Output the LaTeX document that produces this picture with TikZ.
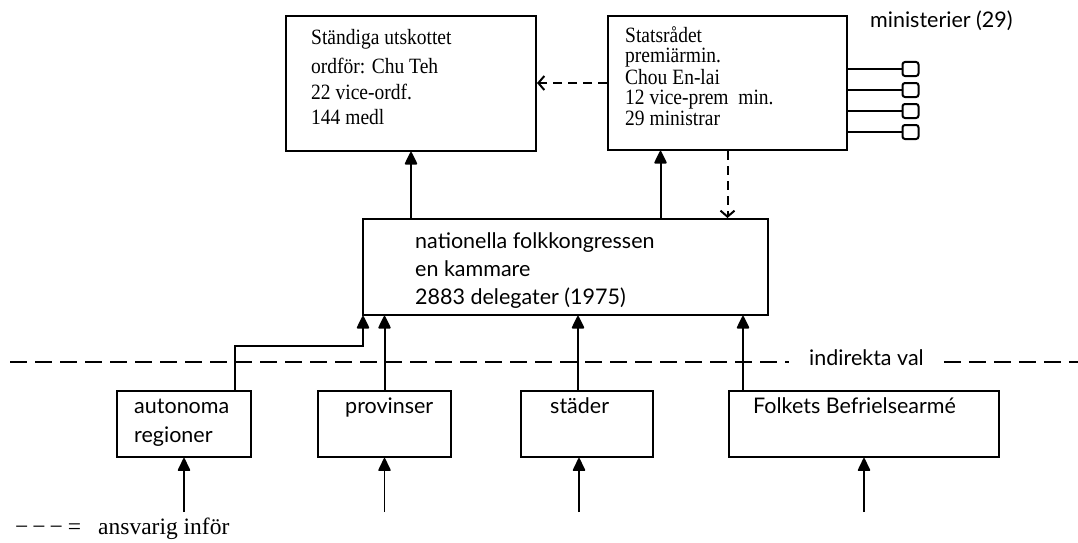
\documentclass[tikz,border=0pt]{standalone}
\usepackage{fontspec}
\usepackage{graphicx}
\setmainfont{Liberation Serif}
\newfontfamily\optima{Lato}
\usetikzlibrary{arrows.meta}
\newcommand{\tallx}[1]{\scalebox{1}[1.12]{#1}}
\begin{document}
\begin{tikzpicture}[x=1pt,y=-1pt,
  box/.style={draw, line width=2pt, inner sep=0pt},
  conn/.style={line width=2pt},
  uparr/.style={conn, -{Triangle[length=14pt,width=13pt,round]}},
  resp/.style={line width=2pt, dash pattern=on 9pt off 6pt, -{Straight Barb[length=6pt,width=14pt,line width=2pt]}},
  divider/.style={line width=1.6pt, dash pattern=on 17pt off 8pt},
  mbox/.style={draw, line width=2pt, rounded corners=2.5pt, minimum width=16pt, minimum height=14pt, inner sep=0pt},
  ser/.style={font=\fontsize{19.5}{23}\selectfont, anchor=base west, inner sep=0pt},
  san/.style={font=\optima\fontsize{21.5}{25}\selectfont, anchor=base west, inner sep=0pt},
]
\useasboundingbox (0,0) rectangle (1078,543);

% boxes
\node[box, minimum width=250pt, minimum height=135pt] (su) at (411,83.5) {};
\node[box, minimum width=239pt, minimum height=134pt] (sr) at (727.5,83) {};
\node[box, minimum width=405pt, minimum height=96pt] (nat) at (565.5,267) {};
\node[box, minimum width=134pt, minimum height=66pt] (auto) at (184,424) {};
\node[box, minimum width=133pt, minimum height=66pt] (prov) at (384.5,424) {};
\node[box, minimum width=132pt, minimum height=66pt] (sta) at (587,424) {};
\node[box, minimum width=270pt, minimum height=66pt] (folk) at (864,424) {};

% texts
\node[ser] (t1) at (311,45) {\tallx{Ständiga utskottet}};
\node[ser] (t2) at (311,74) {\tallx{ordför: Chu Teh}};
\node[ser] (t3) at (311,99) {\tallx{22 vice-ordf.}};
\node[ser] (t4) at (311,124) {\tallx{144 medl}};

\node[ser] (s1) at (625,42) {\tallx{Statsrådet}};
\node[ser] (s2) at (625,63) {\tallx{premiärmin.}};
\node[ser] (s3) at (625,84) {\tallx{Chou En-lai}};
\node[ser] (s4) at (625,104) {\tallx{12 vice-prem\ \ min.}};
\node[ser] (s5) at (625,125) {\tallx{29 ministrar}};

\node[san] (min) at (870,28) {ministerier (29)};

\node[san] (n1) at (415,248) {nationella folkkongressen};
\node[san] (n2) at (415,276) {en kammare};
\node[san] (n3) at (415,304) {2883 delegater (1975)};

\node[san] (a1) at (134,413) {autonoma};
\node[san] (a2) at (134,442) {regioner};
\node[san] (p1) at (345,413) {provinser};
\node[san] (st1) at (550,413) {städer};
\node[san] (f1) at (753,413) {Folkets Befrielsearmé};

\node[ser, font=\fontsize{23.5}{26}\selectfont] (leg) at (15,534) {−\hspace{4pt}−\hspace{4pt}−\hspace{5pt}=\hspace{17pt}ansvarig inför};

% divider with label
\node[font=\optima\fontsize{21.5}{25}\selectfont, inner xsep=20pt, inner ysep=0pt] (iv) at (866.5,358) {indirekta val};
\coordinate (dl) at (10,362);
\coordinate (dr) at (1078,362);
\draw[divider] (dl) -- (dl -| iv.west);
\draw[divider] (dr -| iv.east) -- (dr);

% ministries
\foreach \i/\yy in {1/69,2/90,3/111,4/132}{
  \node[mbox] (m\i) at (910.5,\yy) {};
  \draw[conn] (sr.east |- m\i) -- (m\i.west);
}

% connectors upper
\draw[uparr] (su.south |- nat.north) -- (su.south);
\draw[uparr] ([xshift=-67pt]sr.south |- nat.north) -- ([xshift=-67pt]sr.south);
\draw[resp] (sr.south) -- (sr.south |- nat.north);
\draw[resp] (sr.west) -- (sr.west -| su.east);

% connectors lower
\draw[uparr] ([xshift=51pt]auto.north) -- ++(0,-44) -| ([xshift=1pt]nat.south west);
\draw[uparr] (prov.north) -- (prov.north |- nat.south);
\draw[uparr] ([xshift=-9pt]sta.north) -- ([xshift=-9pt]sta.north |- nat.south);
\draw[uparr] ([xshift=-121pt]folk.north) -- ([xshift=-121pt]folk.north |- nat.south);

% bottom inputs
\coordinate (b1) at (184,512);
\coordinate (b2) at (384.5,512);
\coordinate (b3) at (579,512);
\coordinate (b4) at (864,512);
\draw[uparr, line width=1.5pt] (b1) -- (b1 |- auto.south);
\draw[uparr, line width=1.5pt] (b2) -- (b2 |- prov.south);
\draw[uparr, line width=1.5pt] (b3) -- (b3 |- sta.south);
\draw[uparr, line width=1.5pt] (b4) -- (b4 |- folk.south);
\end{tikzpicture}
\end{document}
